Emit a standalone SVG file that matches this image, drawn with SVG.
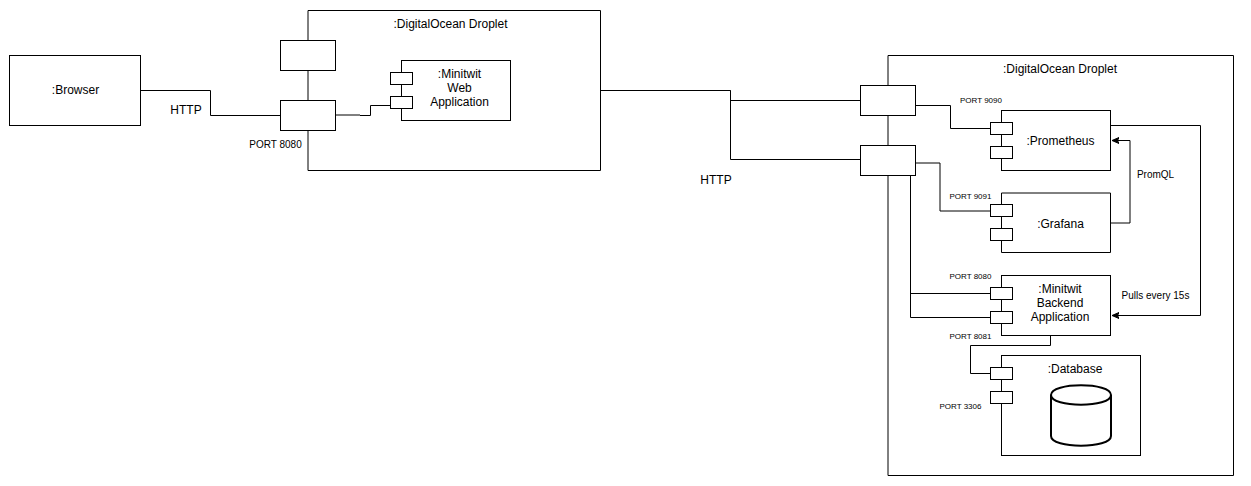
<svg xmlns="http://www.w3.org/2000/svg" width="1251" height="486" viewBox="0 0 1251 486">
<style>
text{font-family:"Liberation Sans",Arial,sans-serif;fill:#000;text-anchor:middle}
.l{font-size:12px}.h{font-size:12px}.s{font-size:8px}.m{font-size:10px}.p{font-size:10px}
rect{fill:#fff;stroke:#000;stroke-width:1}
path{fill:none;stroke:#000;stroke-width:1}
.cyl{stroke-width:2}
.tip{fill:#000;stroke:#000}
</style>
<defs><marker id="a" markerWidth="10" markerHeight="10" refX="7" refY="4" orient="auto" markerUnits="userSpaceOnUse"><path class="tip" d="M7 4L0 1L1.500 4L0 7Z"/></marker></defs>
<rect width="1251" height="486" style="fill:#fff;stroke:none"/>
<g id="browser"><rect x="9.5" y="55.5" width="131" height="70"/><text class="l" x="75.500" y="94">:Browser</text></g>
<g id="droplet-left"><path d="M308 10.500H600.500V170.500H308Z" style="fill:#fff"/><text class="l" x="450.500" y="28">:DigitalOcean Droplet</text></g>
<g id="droplet-right"><path d="M888 55.500H1233.500V475.500H888Z" style="fill:#fff"/><text class="l" x="1060" y="73">:DigitalOcean Droplet</text></g>
<g id="web-app"><rect x="401.5" y="60.5" width="109" height="60"/><rect x="390.5" y="72.5" width="22" height="12"/><rect x="390.5" y="96.5" width="22" height="12"/><text class="l" x="459.500" y="78">:Minitwit</text><text class="l" x="459.500" y="92">Web</text><text class="l" x="459.500" y="106">Application</text></g>
<g id="left-port-top"><rect x="280.5" y="40.5" width="55" height="30"/></g>
<g id="left-port-main"><rect x="280.5" y="100.5" width="55" height="30"/></g>
<g id="right-port-top"><rect x="860.5" y="85.5" width="55" height="30"/></g>
<g id="right-port-main"><rect x="860.5" y="145.5" width="55" height="30"/></g>
<g id="prometheus"><rect x="1001.5" y="110.5" width="109" height="60"/><rect x="990.5" y="122.5" width="22" height="12"/><rect x="990.5" y="146.5" width="22" height="12"/><text class="l" x="1060.500" y="145">:Prometheus</text></g>
<g id="grafana"><path d="M1001.500 193H1110.500V252.500H1001.500Z" style="fill:#fff"/><rect x="990.5" y="204.5" width="22" height="12"/><rect x="990.5" y="228.500" width="22" height="12"/><text class="l" x="1060.500" y="228">:Grafana</text></g>
<g id="backend"><rect x="1001.5" y="275.5" width="109" height="60"/><rect x="990.5" y="287.5" width="22" height="12"/><rect x="990.5" y="311.5" width="22" height="12"/><text class="l" x="1060" y="293">:Minitwit</text><text class="l" x="1060" y="307">Backend</text><text class="l" x="1060" y="321">Application</text></g>
<g id="database"><rect x="1001.5" y="355.5" width="139" height="100"/><rect x="990.5" y="367.5" width="22" height="12"/><rect x="990.5" y="391.5" width="22" height="12"/><text class="l" x="1075" y="373">:Database</text><path class="cyl" d="M1051 395C1051 382 1111 382 1111 395V436C1111 449 1051 449 1051 436ZM1051 395C1051 408 1111 408 1111 395"/></g>
<g id="connectors">
<path d="M141 90.500H210.500V115.500H280"/>
<path d="M336 115H360M360 115.500H370.500V105.500H390"/>
<path d="M601 90.500H730.500V100.500H860M730.500 90.500V159.500H860"/>
<path d="M916 105.500H950.500V128.500H990"/>
<path d="M916 163H940V211H990"/>
<path d="M910.500 176V317.500H990M910.500 293.500H990"/>
<path d="M1111 125.500H1200.500V315.500H1112" marker-end="url(#a)"/>
<path d="M1111 223H1130V140.500H1112" marker-end="url(#a)"/>
<path d="M1050.500 336V345.500H970.500V373.500H990"/>
</g>
<g id="labels">
<text class="h" x="186" y="114">HTTP</text>
<text class="h" x="716" y="184">HTTP</text>
<text class="m" x="275.500" y="148">PORT 8080</text>
<text class="s" x="981" y="103">PORT 9090</text>
<text class="s" x="970.500" y="199">PORT 9091</text>
<text class="s" x="970.500" y="279">PORT 8080</text>
<text class="s" x="970.500" y="339">PORT 8081</text>
<text class="s" x="960.500" y="409">PORT 3306</text>
<text class="p" x="1155.500" y="178">PromQL</text>
<text class="p" x="1155.500" y="299">Pulls every 15s</text>
</g>
</svg>
